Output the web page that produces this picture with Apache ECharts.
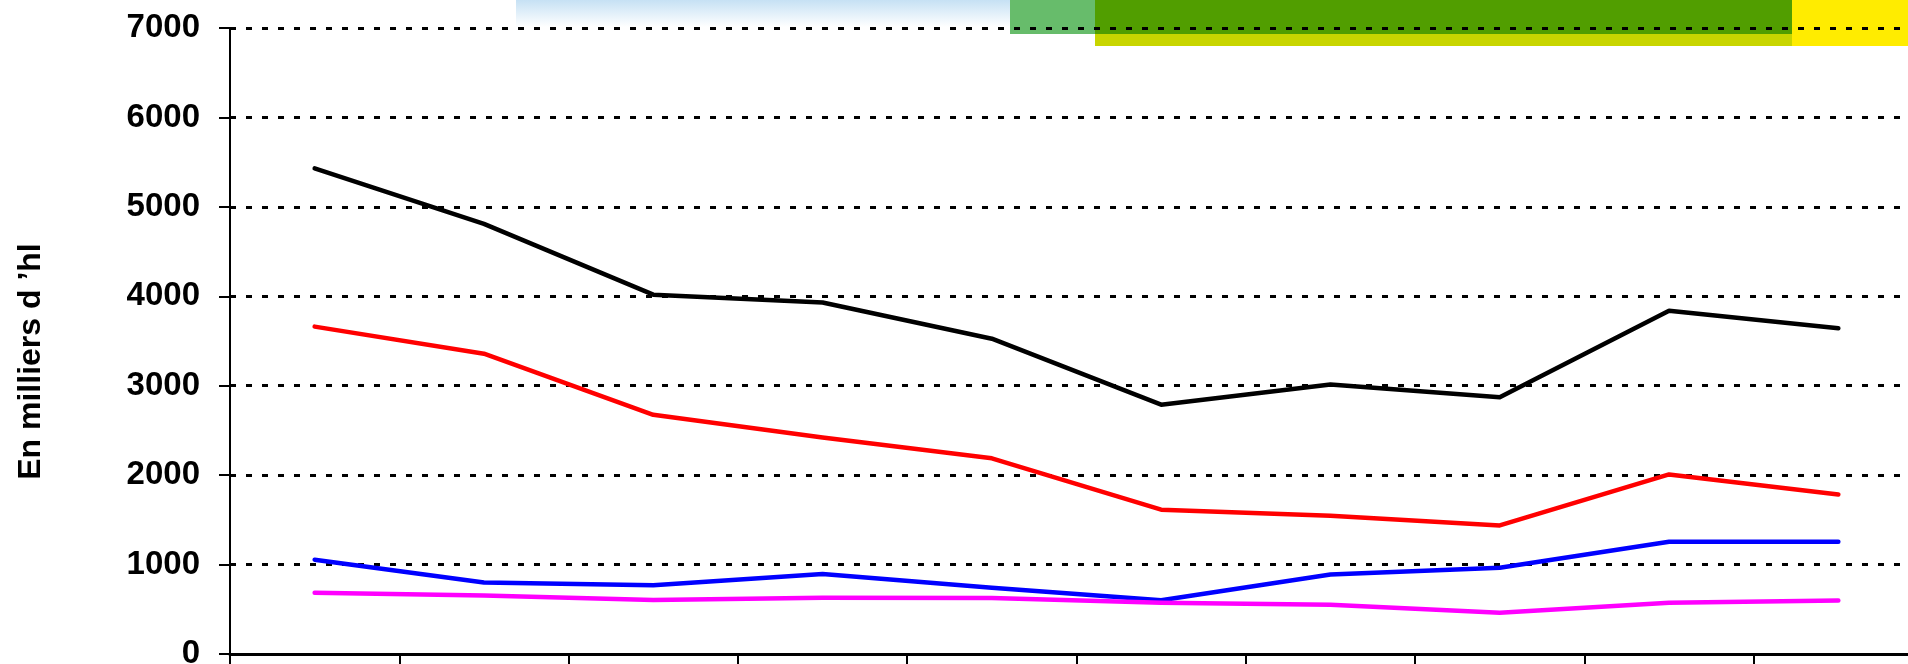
<!DOCTYPE html>
<html>
<head>
<meta charset="utf-8">
<title>En milliers d'hl</title>
<script src="https://cdn.jsdelivr.net/npm/echarts/dist/echarts.min.js"></script>
<style>
  html, body { margin: 0; padding: 0; background: #fff; }
  #chart { width: 1908px; height: 664px; }
</style>
</head>
<body>
<div id="chart"></div>
<script>
// categories (labels are cut off at the bottom of the picture)
const categories = ['1', '2', '3', '4', '5', '6', '7', '8', '9', '10'];

// values, in milliers d'hl
const totalValues = [5430, 4810, 4018, 3931, 3526, 2788, 3013, 2870, 3838, 3643];
const redValues = [3661, 3358, 2675, 2420, 2188, 1614, 1547, 1438, 2008, 1783];
const blueValues = [1055, 800, 770, 895, 740, 600, 890, 965, 1255, 1255];
const magentaValues = [685, 655, 604, 630, 627, 574, 551, 460, 574, 597];

const yTicks = { min: 0, max: 7000, interval: 1000 };
const yTitle = 'En milliers d \u2019hl';

const chart = echarts.init(document.getElementById('chart'));

const lineSeries = (name, data, color) => ({
  name: name,
  type: 'line',
  data: data,
  symbol: 'none',
  lineStyle: { color: color, width: 4.5, cap: 'round', join: 'round' },
  itemStyle: { color: color },
  z: 3
});

const boldFont = 'Liberation Sans, Arial, sans-serif';

const option = {
  animation: false,
  backgroundColor: '#fff',
  grid: { left: 230, right: -15, top: 28, bottom: 10, outerBoundsMode: 'none' },
  // coloured header strip at the top of the slide
  graphic: [
    {
      type: 'rect', z: -10, silent: true,
      shape: { x: 516, y: 0, width: 494, height: 27 },
      style: {
        fill: new echarts.graphic.LinearGradient(0, 0, 0, 1, [
          { offset: 0, color: '#c6e1f4' },
          { offset: 1, color: '#ffffff' }
        ])
      }
    },
    { type: 'rect', z: -10, silent: true, shape: { x: 1010, y: 0, width: 85, height: 34 }, style: { fill: '#67bc6b' } },
    { type: 'rect', z: -10, silent: true, shape: { x: 1095, y: 0, width: 697, height: 34 }, style: { fill: '#519e00' } },
    { type: 'rect', z: -10, silent: true, shape: { x: 1095, y: 34, width: 697, height: 12 }, style: { fill: '#c8d500' } },
    { type: 'rect', z: -10, silent: true, shape: { x: 1792, y: 0, width: 116, height: 46 }, style: { fill: '#ffec00' } }
  ],
  xAxis: {
    type: 'category',
    data: categories,
    boundaryGap: true,
    axisLine: { show: true, lineStyle: { color: '#000', width: 3 } },
    axisTick: { show: true, alignWithLabel: false, length: 12, lineStyle: { color: '#000', width: 2 } },
    axisLabel: { show: false },
    splitLine: { show: false }
  },
  yAxis: {
    type: 'value',
    min: yTicks.min,
    max: yTicks.max,
    interval: yTicks.interval,
    name: yTitle,
    nameLocation: 'middle',
    nameRotate: 90,
    nameGap: 183,
    nameTextStyle: {
      fontFamily: boldFont,
      fontWeight: 'bold',
      fontSize: 32,
      color: '#000',
      padding: [0, 41, 0, 0]
    },
    axisLine: { show: true, lineStyle: { color: '#000', width: 2 } },
    axisTick: { show: true, length: 11, lineStyle: { color: '#000', width: 2 } },
    axisLabel: {
      margin: 30,
      fontFamily: boldFont,
      fontWeight: 'bold',
      fontSize: 33,
      color: '#000',
      formatter: (v) => String(v)
    },
    splitLine: { show: true, lineStyle: { color: '#000', width: 3, type: [6, 10] } }
  },
  series: [
    lineSeries('Total', totalValues, '#000000'),
    lineSeries('Rouge', redValues, '#ff0000'),
    lineSeries('Bleu', blueValues, '#0000ff'),
    lineSeries('Rose', magentaValues, '#ff00ff')
  ]
};

chart.setOption(option);
</script>
</body>
</html>
